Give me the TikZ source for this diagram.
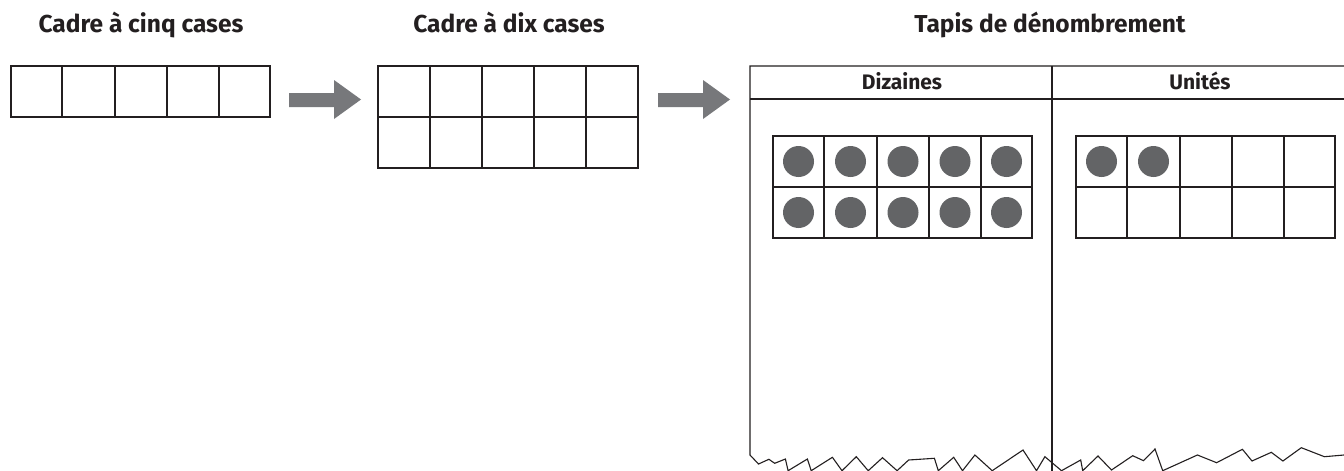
\documentclass[tikz,border=0pt]{standalone}
\usepackage{fontspec}
\setmainfont{Fira Sans}
\definecolor{ink}{HTML}{231F20}
\definecolor{dotgray}{HTML}{636466}
\definecolor{arrowgray}{HTML}{77787B}
\begin{document}
\begin{tikzpicture}[x=1pt,y=-1pt,
  gridline/.style={draw=ink,line width=1.2pt},
  matline/.style={draw=ink,line width=1.1pt,line join=miter},
  divline/.style={draw=ink,line width=2.2pt},
  title/.style={font=\fontsize{24.5}{28}\selectfont\bfseries,text=ink,anchor=base,inner sep=0pt},
  head/.style={font=\fontsize{21}{26}\selectfont\bfseries,text=ink,anchor=base,inner sep=0pt},
  counter/.style={fill=dotgray,draw=none},
  bigarrow/.style={fill=arrowgray,draw=none}]
\useasboundingbox (0,0) rectangle (1344,471);
\fill[white] (0,0) rectangle (1344,471);
% titles
\node[title] (t1) at (141,32) {Cadre à cinq cases};
\node[title] (t2) at (509,32) {Cadre à dix cases};
\node[title] (t3) at (1050,32) {Tapis de dénombrement};
% five frame
\foreach \x in {62,115,167,219} \draw[gridline] (\x,66) -- (\x,117);
\draw[gridline] (11,66) rectangle (270,117);
% arrow 1
\fill[bigarrow] (289,93) -- (334,93) -- (334,80) -- (361,99.5) -- (334,119) -- (334,107) -- (289,107) -- cycle;
% ten frame
\foreach \x in {430,482,534,586} \draw[gridline] (\x,66) -- (\x,168);
\draw[gridline] (378,117) -- (638,117);
\draw[gridline] (378,66) rectangle (638,168);
% arrow 2
\fill[bigarrow] (658,93) -- (703,93) -- (703,80) -- (730,99.5) -- (703,119) -- (703,107) -- (658,107) -- cycle;
% mat
\draw[matline] (1344,66) -- (750,66) -- (750,455)
  -- (758.5,464) -- (768.9,459.3) -- (774.7,463.3) -- (785.4,459) -- (788.1,470.7)
  -- (807.4,459) -- (811.2,470.7) -- (832.4,457.3) -- (842,470.7) -- (856.3,456.7)
  -- (868.2,470.7) -- (882.5,457.7) -- (897.1,470.7) -- (908.6,460) -- (934.4,458.3)
  -- (938.3,470.7) -- (953.7,457.3) -- (962.5,470.7) -- (974.9,455) -- (992.2,470.7)
  -- (1023,450) -- (1036.5,470.7) -- (1044.9,456.7) -- (1061.5,470.7) -- (1080.7,460)
  -- (1082.7,470.7) -- (1098,456) -- (1111.5,470) -- (1132.7,455.7) -- (1143.5,460.7)
  -- (1155,449) -- (1162.7,470.7) -- (1197.4,455) -- (1216.6,462.7) -- (1242.4,449.3)
  -- (1252,461) -- (1271.3,452.3) -- (1282.9,461) -- (1301.3,447.7) -- (1324.4,456.7)
  -- (1344,455);
\draw[matline] (750,99) -- (1344,99);
\draw[divline] (1052,66) -- (1052,471);
\node[head] (h1) at (902,89) {Dizaines};
\node[head] (h2) at (1200,89) {Unités};
% dizaines frame
\foreach \x in {824,877,929,981} \draw[gridline] (\x,136) -- (\x,238);
\draw[gridline] (773,187) -- (1032,187);
\draw[gridline] (773,136) rectangle (1032,238);
\foreach \x in {798.5,850.5,903,955,1006.5} {
  \fill[counter] (\x,161.5) circle (15.5);
  \fill[counter] (\x,212.5) circle (15.5);
}
% unites frame
\foreach \x in {1127,1180,1232,1284} \draw[gridline] (\x,136) -- (\x,238);
\draw[gridline] (1076,187) -- (1335,187);
\draw[gridline] (1076,136) rectangle (1335,238);
\fill[counter] (1101.5,161.5) circle (15.5);
\fill[counter] (1153.5,161.5) circle (15.5);
\end{tikzpicture}
\end{document}
